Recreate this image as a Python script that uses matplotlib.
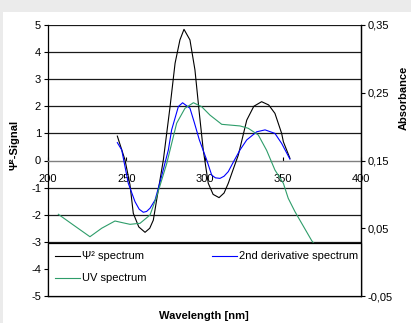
import matplotlib
matplotlib.use("Agg")
import matplotlib.pyplot as plt
from matplotlib.patches import Rectangle
from matplotlib.lines import Line2D
from matplotlib.ticker import FuncFormatter

plt.rcParams['font.family'] = ['Liberation Sans', 'DejaVu Sans']

# Psi^2 spectrum (left axis)
psi_wl = [244.3, 249.2, 252.4, 254.5, 258.0, 262.0, 265.0, 267.3, 269.4, 273.7, 278.0, 281.2,
          284.3, 286.9, 290.7, 293.9, 296.7, 299.2, 302.4, 305.5, 309.3, 312.5, 315.2, 318.5,
          321.6, 327.0, 331.5, 336.5, 341.0, 345.0, 349.3, 350.4, 354.6]
psi_val = [0.9, 0.02, -0.9, -1.95, -2.45, -2.65, -2.5, -2.2, -1.46, 0.02, 1.99, 3.59,
           4.45, 4.84, 4.45, 3.34, 1.74, 0.39, -0.84, -1.25, -1.37, -1.2, -0.84, -0.3,
           0.2, 1.49, 2.0, 2.17, 2.05, 1.74, 1.0, 0.69, 0.08]

# 2nd derivative spectrum (left axis)
der_wl = [244.3, 247.1, 251.3, 255.6, 258.3, 260.9, 263.0, 265.2, 268.4, 272.5, 276.9, 279.0,
          283.3, 286.0, 290.7, 293.5, 296.7, 301.4, 304.6, 307.0, 309.9, 312.5, 315.2, 318.5,
          322.7, 327.0, 333.4, 338.7, 345.0, 349.3, 354.6]
der_val = [0.66, 0.39, -0.84, -1.52, -1.8, -1.91, -1.88, -1.76, -1.46, -0.6, 0.39, 1.13,
           1.99, 2.13, 1.93, 1.4, 0.76, 0.02, -0.54, -0.64, -0.66, -0.58, -0.41, -0.05,
           0.39, 0.76, 1.06, 1.13, 1.0, 0.63, 0.05]

# UV spectrum (right axis, absorbance)
uv_wl = [206.6, 216.2, 226.8, 234.3, 242.8, 248.0, 252.4, 258.8, 265.2, 269.4, 275.8, 282.2,
         287.5, 292.9, 298.2, 303.5, 311.0, 322.7, 328.0, 334.4, 339.7, 345.0, 350.4, 353.5,
         357.8, 368.5, 376.0]
uv_val = [0.0706, 0.0548, 0.0375, 0.05, 0.0607, 0.058, 0.0558, 0.0573, 0.0696, 0.0966, 0.145, 0.205,
          0.227, 0.2353, 0.2294, 0.217, 0.2034, 0.201, 0.1975, 0.1876, 0.165, 0.136, 0.1163, 0.0942,
          0.0745, 0.0317, 0.01]

left_ticks = [5, 4, 3, 2, 1, 0, -1, -2, -3, -4, -5]
right_ticks = [0.35, 0.25, 0.15, 0.05, -0.05]
x_ticks = [200, 250, 300, 350, 400]

fig = plt.figure(figsize=(4.11, 3.23), dpi=100, facecolor='white')
# grey outer band
fig.patches.append(Rectangle((0, 1 - 12 / 323), 1, 12 / 323, transform=fig.transFigure,
                             facecolor='#ebebeb', edgecolor='none', zorder=0))
fig.patches.append(Rectangle((0, 0), 3 / 411, 1, transform=fig.transFigure,
                             facecolor='#ebebeb', edgecolor='none', zorder=0))

ax = fig.add_axes([48 / 411, 27 / 323, 313 / 411, 271 / 323])
ax.set_xlim(200, 400)
ax.set_ylim(-5, 5)
ax.set_facecolor('white')

for g in [5, 4, 3, 2, 1, -1, -2, -3, -4]:
    ax.axhline(g, color='#1a1a1a', lw=0.9, zorder=1)

ax.plot(psi_wl, psi_val, color='black', lw=0.8, zorder=3)
ax.plot(der_wl, der_val, color='#0000ff', lw=0.8, zorder=3)

ax.spines['top'].set_visible(False)
ax.spines['bottom'].set_position(('data', 0))
ax.spines['bottom'].set_color('#808080')
ax.spines['bottom'].set_linewidth(1.0)
ax.spines['left'].set_color('black')
ax.spines['left'].set_linewidth(0.9)
ax.spines['right'].set_color('black')
ax.spines['right'].set_linewidth(0.9)
ax.axhline(-5, color='black', lw=1.0, zorder=6, clip_on=False)

ax.set_xticks(x_ticks)
ax.set_xticklabels([str(t) for t in x_ticks])
ax.tick_params(axis='x', direction='in', length=3, width=0.8, color='black', pad=10,
               labelsize=8)
ax.set_yticks(left_ticks)
ax.set_yticklabels([str(t) for t in left_ticks])
ax.tick_params(axis='y', direction='out', length=3, width=0.8, labelsize=8, pad=2)

ax2 = ax.twinx()
ax2.set_ylim(-0.05, 0.35)
ax2.plot(uv_wl, uv_val, color='#2e9d6a', lw=0.8, zorder=3)
for s in ['top', 'bottom', 'left']:
    ax2.spines[s].set_visible(False)
ax2.spines['right'].set_color('black')
ax2.spines['right'].set_linewidth(0.9)
ax2.set_yticks(right_ticks)
ax2.yaxis.set_major_formatter(FuncFormatter(lambda v, p: ('%.2f' % v).replace('.', ',')))
ax2.tick_params(axis='y', direction='out', length=3, width=0.8, labelsize=8, pad=2)

# legend box (manual, drawn on top)
leg_h = 53 / 271
ax2.add_patch(Rectangle((0, 0), 1, leg_h, transform=ax2.transAxes, facecolor='white',
                        edgecolor='black', lw=0.9, zorder=10, clip_on=False))
leg_items = [("Ψ² spectrum", 'black', 0.022, 0.147),
             ("2nd derivative spectrum", '#0000ff', 0.524, 0.147),
             ("UV spectrum", '#2e9d6a', 0.022, 0.066)]
for label, col, x0, y0 in leg_items:
    ax2.add_line(Line2D([x0, x0 + 0.08], [y0, y0], transform=ax2.transAxes, color=col,
                        lw=0.8, zorder=11))
    ax2.text(x0 + 0.087, y0, label, transform=ax2.transAxes, fontsize=8, va='center',
             ha='left', zorder=12)

fig.text(204 / 411, 1 - 316 / 323, "Wavelength [nm]", fontsize=8, fontweight='bold',
         ha='center', va='center')
fig.text(15 / 411, 1 - 145 / 323, "Ψ²-Signal", fontsize=8, fontweight='bold',
         ha='center', va='center', rotation=90)
fig.text(404 / 411, 1 - 98 / 323, "Absorbance", fontsize=8, fontweight='bold',
         ha='center', va='center', rotation=90)

fig.savefig("out.png", dpi=100, facecolor=fig.get_facecolor())
